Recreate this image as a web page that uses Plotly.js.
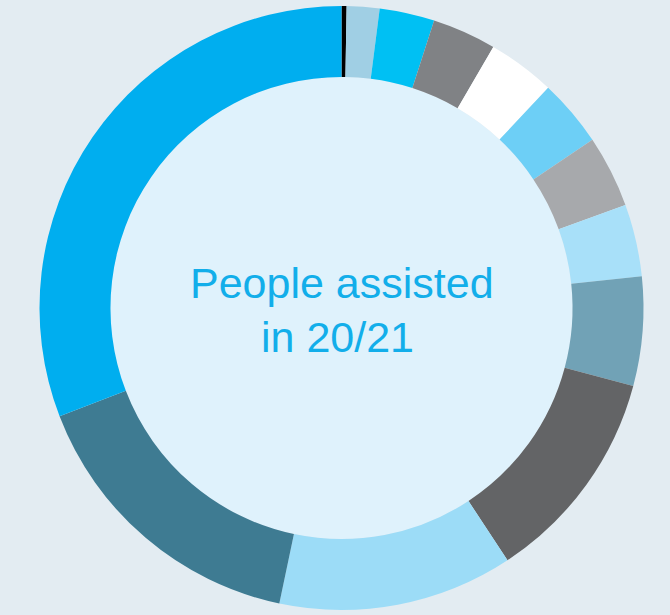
<!DOCTYPE html>
<html>
<head>
<meta charset="utf-8">
<script src="https://cdn.plot.ly/plotly-3.0.1.min.js"></script>
<style>html,body{margin:0;padding:0;background:#e3ecf2;}#chart{width:670px;height:615px;}</style>
</head>
<body>
<div id="chart"></div>
<script>
// Share of people assisted in 20/21 by group (percent, read from the ring)
const categories = ["Group 1","Group 2","Group 3","Group 4","Group 5","Group 6","Group 7","Group 8","Group 9","Group 10","Group 11","Group 12","Group 13"];
const shares = [0.27, 1.75, 2.94, 3.42, 3.61, 3.61, 3.86, 3.86, 5.83, 11.58, 12.56, 15.86, 30.83];
const colors = ["#000000","#a0cfe4","#00c0f3","#808285","#ffffff","#6dcff6","#a7a9ac","#a8e0f9","#71a2b6","#636466","#9cdcf7","#3e7b92","#00aeef"];
const centerLines = ["People assisted", "in 20/21"];

const trace = {
  type: "pie",
  labels: categories,
  values: shares,
  sort: false,
  direction: "clockwise",
  rotation: 0,
  hole: 0.765,
  textinfo: "none",
  hoverinfo: "label+value",
  marker: {colors: colors, line: {width: 0}},
  showlegend: false,
  domain: {x: [0, 1], y: [0, 1]}
};

const layout = {
  width: 670, height: 615,
  margin: {l: 13, r: 0, t: 6, b: 5},
  paper_bgcolor: "#e3ecf2",
  plot_bgcolor: "#e3ecf2",
  showlegend: false,
  shapes: [{
    type: "circle", xref: "paper", yref: "paper", layer: "below",
    x0: 0.5 - 231/657, x1: 0.5 + 231/657,
    y0: 0.5 - 231/604, y1: 0.5 + 231/604,
    fillcolor: "#dff2fc", line: {width: 0}
  }],
  annotations: [
    {text: centerLines[0], xref: "paper", yref: "paper", x: 0.5, y: 0.5415, xanchor: "center", yanchor: "middle", showarrow: false,
     font: {family: "Liberation Sans, Arial, sans-serif", size: 43, color: "#12aeea"}},
    {text: centerLines[1], xref: "paper", yref: "paper", x: 0.494, y: 0.452, xanchor: "center", yanchor: "middle", showarrow: false,
     font: {family: "Liberation Sans, Arial, sans-serif", size: 43, color: "#12aeea"}}
  ]
};

Plotly.newPlot("chart", [trace], layout, {displayModeBar: false, staticPlot: true});
</script>
</body>
</html>
